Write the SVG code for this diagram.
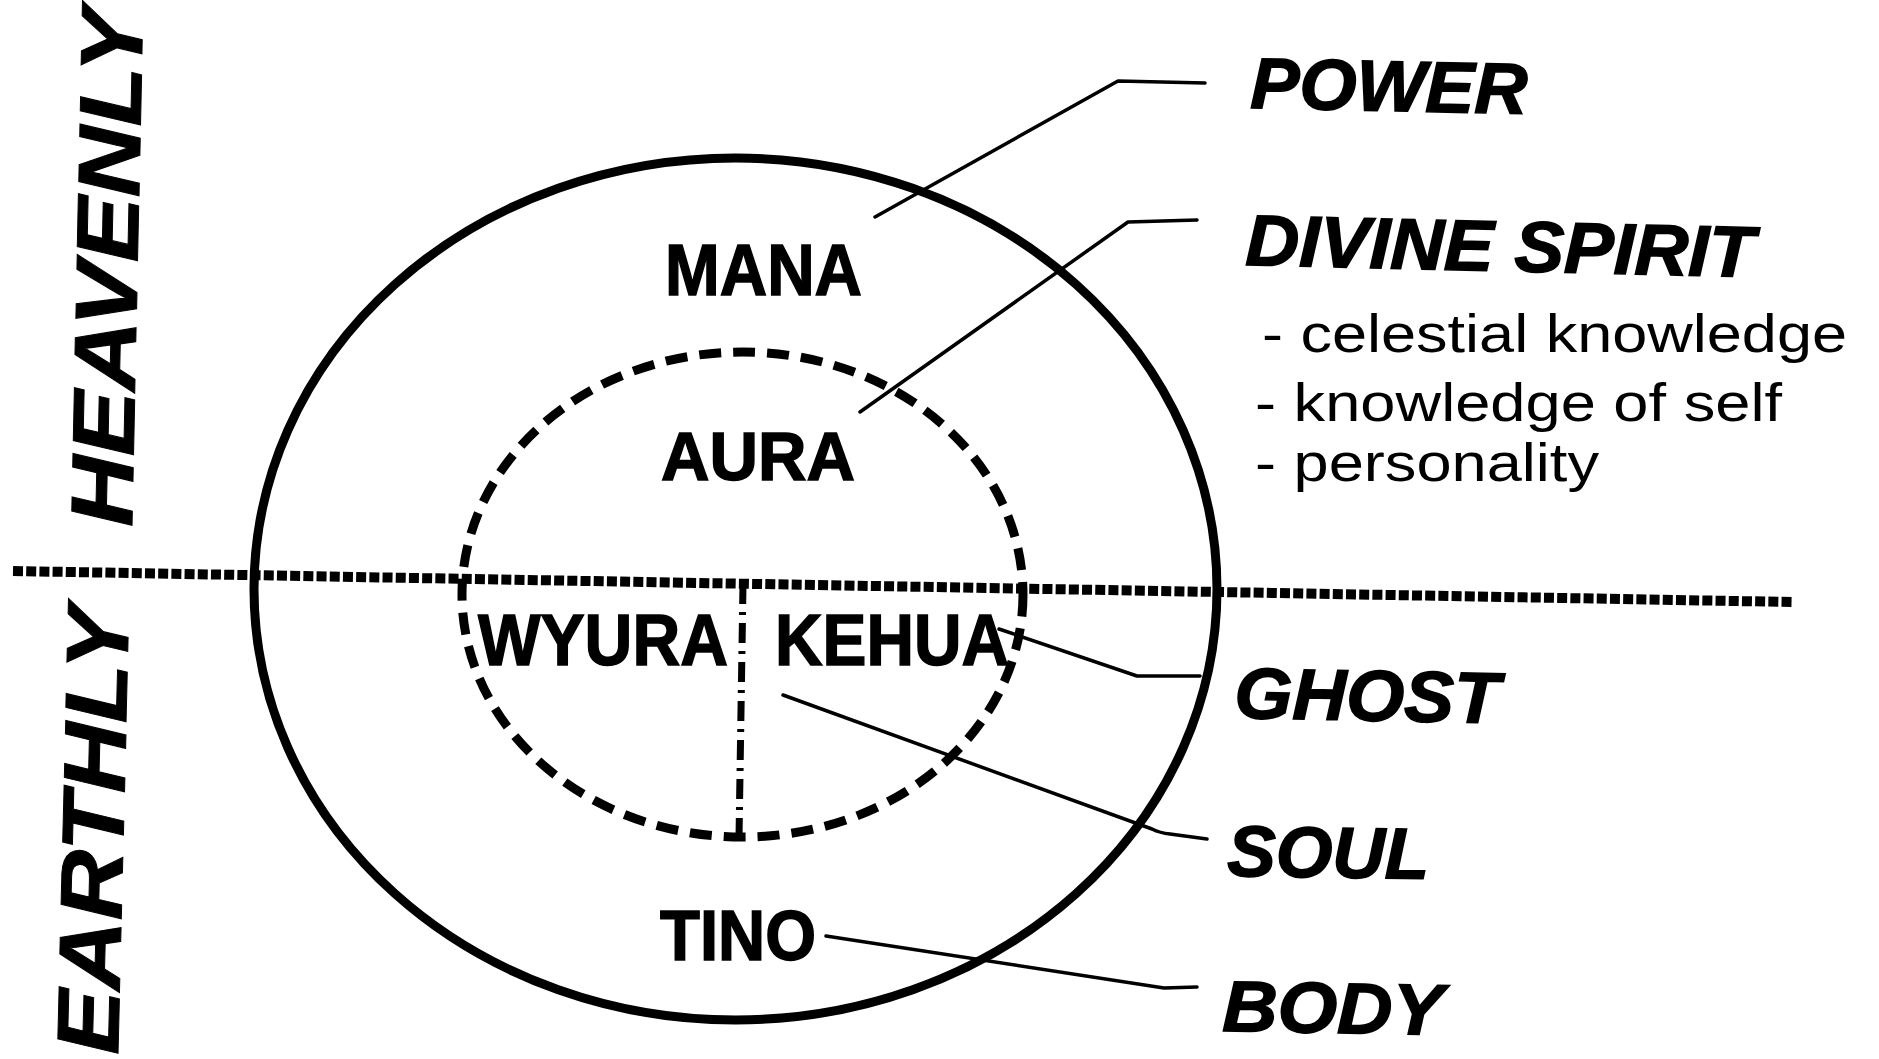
<svg xmlns="http://www.w3.org/2000/svg" width="1879" height="1059" viewBox="0 0 1879 1059">
  <defs>
    <style>
      .in { font-family: "Liberation Sans", Arial, sans-serif; font-weight: bold; fill: #000; stroke: #000; stroke-width: 1.5; }
      .side { font-family: "Liberation Sans", Arial, sans-serif; font-weight: bold; font-style: italic; fill: #000; stroke: #000; stroke-width: 1; font-size: 88px; }
      .lab { font-family: "Liberation Sans", Arial, sans-serif; font-weight: bold; font-style: italic; fill: #000; stroke: #000; stroke-width: 1.5; font-size: 72px; }
      .sub { font-family: "Liberation Sans", Arial, sans-serif; fill: #000; font-size: 53px; }
      .conn { fill: none; stroke: #000; stroke-width: 3.5; stroke-linecap: round; stroke-linejoin: round; }
    </style>
  </defs>
  <rect width="1879" height="1059" fill="#fff"/>

  <g id="outer-circle">
    <ellipse cx="735.5" cy="589" rx="481.5" ry="431" fill="none" stroke="#000" stroke-width="9"/>
  </g>
  <g id="inner-circle">
    <ellipse cx="742.5" cy="594.5" rx="280.5" ry="242.5" fill="none" stroke="#000" stroke-width="9" stroke-dasharray="22 12"/>
  </g>
  <g id="divider">
    <line x1="13" y1="571" x2="1792" y2="602" stroke="#000" stroke-width="10" stroke-dasharray="10 3.2"/>
  </g>
  <g id="split">
    <line x1="743" y1="584" x2="739" y2="838" stroke="#000" stroke-width="7" stroke-dasharray="20 8 3 8"/>
  </g>

  <g id="heavenly">
    <text class="side" transform="translate(132,527) rotate(-88.8)" textLength="518" lengthAdjust="spacingAndGlyphs">HEAVENLY</text>
  </g>
  <g id="earthly">
    <text class="side" transform="translate(118,1055) rotate(-88.6)" textLength="448" lengthAdjust="spacingAndGlyphs">EARTHLY</text>
  </g>

  <g id="mana"><text class="in" x="665" y="295" font-size="72" textLength="197" lengthAdjust="spacingAndGlyphs">MANA</text></g>
  <g id="aura"><text class="in" x="661" y="480" font-size="68" textLength="194" lengthAdjust="spacingAndGlyphs">AURA</text></g>
  <g id="wyura"><text class="in" x="478" y="665" font-size="73" textLength="250" lengthAdjust="spacingAndGlyphs">WYURA</text></g>
  <g id="kehua"><text class="in" x="775" y="665" font-size="72" textLength="234" lengthAdjust="spacingAndGlyphs">KEHUA</text></g>
  <g id="tino"><text class="in" x="660" y="960" font-size="70" textLength="156" lengthAdjust="spacingAndGlyphs">TINO</text></g>

  <g id="power"><text class="lab" transform="translate(1250,108) rotate(1.2)" textLength="277" lengthAdjust="spacingAndGlyphs">POWER</text></g>
  <g id="divine-spirit">
    <text class="lab" transform="translate(1245,265) rotate(1.35)" textLength="509" lengthAdjust="spacingAndGlyphs">DIVINE SPIRIT</text>
    <text class="sub" x="1262" y="352" textLength="585" lengthAdjust="spacingAndGlyphs">- celestial knowledge</text>
    <text class="sub" x="1255" y="421" textLength="527" lengthAdjust="spacingAndGlyphs">- knowledge of self</text>
    <text class="sub" x="1255" y="481" textLength="344" lengthAdjust="spacingAndGlyphs">- personality</text>
  </g>
  <g id="ghost"><text class="lab" transform="translate(1234,718) rotate(1.1)" textLength="265" lengthAdjust="spacingAndGlyphs">GHOST</text></g>
  <g id="soul"><text class="lab" transform="translate(1227,876) rotate(0.8)" textLength="202" lengthAdjust="spacingAndGlyphs">SOUL</text></g>
  <g id="body"><text class="lab" transform="translate(1222,1031) rotate(1)" textLength="221" lengthAdjust="spacingAndGlyphs">BODY</text></g>

  <g id="connectors">
    <polyline class="conn" points="875,217 1118,81 1205,83"/>
    <polyline class="conn" points="860,412 1128,222 1197,220"/>
    <polyline class="conn" points="999,629 1137,676 1200,676"/>
    <path class="conn" d="M783,695 L1152,829 Q1160,833 1170,834 L1207,839"/>
    <polyline class="conn" points="826,936 1164,988 1197,987"/>
  </g>
</svg>
